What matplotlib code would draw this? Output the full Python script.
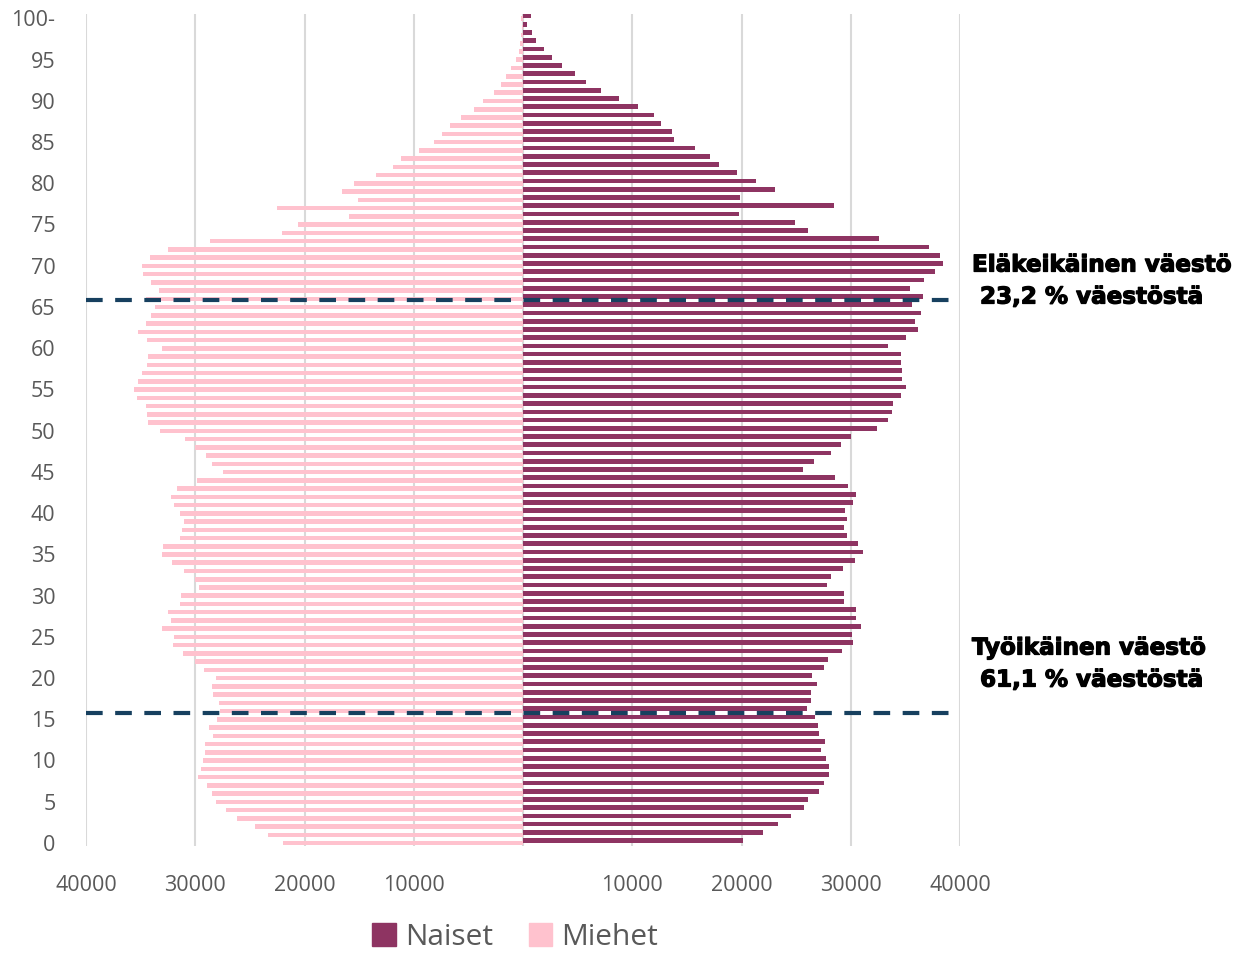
import numpy as np
import matplotlib
matplotlib.use("Agg")
import matplotlib.pyplot as plt
import matplotlib.patheffects as pe
from matplotlib.patches import Patch

# --- DATA (ages 0..100) ---
ages = np.arange(0, 101)

men = [21940, 23310, 24500, 26180, 27190, 28070, 28500, 28900, 29780, 29480,
       29260, 29080, 29080, 28410, 28750, 28010, 27700, 27800, 28410, 28440,
       28110, 29170, 30060, 31100, 32010, 31920, 33050, 32190, 32470, 31400,
       31310, 29630, 30060, 31000, 32100, 33020, 32930, 31370, 31190, 31030,
       31430, 31920, 32250, 31710, 29840, 27430, 28440, 28990, 30060, 30970,
       33200, 34330, 34390, 34540, 35310, 35580, 35210, 34880, 34450, 34300,
       33020, 34450, 35210, 34540, 34060, 33660, 34500, 33290, 34090, 34790,
       34880, 34150, 32500, 28680, 22030, 20570, 15930, 22490, 15140, 16570,
       15500, 13430, 11900, 11140, 9550, 8150, 7420, 6710, 5650, 4460,
       3690, 2690, 2040, 1530, 1070, 670, 340, 240, 150, 60,
       150]

women = [20140, 22000, 23340, 24500, 25720, 26090, 27130, 27560, 27980, 28040,
         27740, 27250, 27620, 27130, 27010, 26730, 26000, 26400, 26330, 26880,
         26460, 27560, 27920, 29200, 30240, 30120, 30940, 30520, 30490, 29420,
         29420, 27800, 28200, 29330, 30390, 31130, 30640, 29690, 29390, 29630,
         29510, 30180, 30490, 29720, 28590, 25660, 26670, 28200, 29080, 30060,
         32380, 33410, 33780, 33900, 34610, 35090, 34700, 34700, 34640, 34640,
         33410, 35090, 36130, 35860, 36400, 35640, 36650, 35400, 36710, 37750,
         38480, 38170, 37140, 32590, 26120, 24900, 19740, 28440, 19900, 23040,
         21330, 19590, 17910, 17150, 15780, 13850, 13670, 12660, 11990, 10500,
         8760, 7140, 5770, 4790, 3540, 2690, 1920, 1220, 850, 370,
         700]

y_ticks = list(range(0, 101, 5))
y_labels = [str(v) for v in range(0, 100, 5)] + ["100-"]
x_ticks = [-40000, -30000, -20000, -10000, 0, 10000, 20000, 30000, 40000]
x_labels = ["40000", "30000", "20000", "10000", "", "10000", "20000", "30000", "40000"]

# age group limits (dashed lines) and their labels
limits = [65.75, 15.6]
notes = [("Eläkeikäinen väestö", " 23,2 % väestöstä"),
         ("Työikäinen väestö", " 61,1 % väestöstä")]
note_y = [266, 649]  # pixel row of first line

C_WOMEN = "#8E3462"
C_MEN = "#FFC2CE"
C_LINE = "#17405F"
C_GRID = "#D9D9D9"
C_TEXT = "#595959"

W, H = 1238, 954
fig = plt.figure(figsize=(W / 100, H / 100), dpi=100)
ax = fig.add_axes([86 / W, 107 / H, 874 / W, 832 / H])

ax.barh(ages + 0.15, women, height=0.57, color=C_WOMEN, zorder=3)
ax.barh(ages - 0.15, [-v for v in men], height=0.55, color=C_MEN, zorder=3)

for y in limits:
    ax.plot([-40000, 39000], [y, y], color=C_LINE, lw=3, dashes=(4, 3), zorder=4)

ax.set_xlim(-40000, 40000)
ax.set_ylim(-0.5, 100.4)
ax.set_xticks(x_ticks)
ax.set_xticklabels(x_labels)
ax.set_yticks(y_ticks)
ax.set_yticklabels(y_labels)
ax.tick_params(axis="both", length=0, colors=C_TEXT, labelsize=15.5)
ax.tick_params(axis="x", pad=20)
ax.tick_params(axis="y", pad=22)
for lab in ax.get_xticklabels() + ax.get_yticklabels():
    lab.set_fontfamily("Open Sans")

ax.grid(axis="x", color=C_GRID, lw=1.5, zorder=0)
ax.set_axisbelow(True)
for s in ax.spines.values():
    s.set_visible(False)

# annotations on the right
thick = [pe.withStroke(linewidth=0.9, foreground="black")]
for (l1, l2), py in zip(notes, note_y):
    for k, line in enumerate((l1, l2)):
        fig.text(972 / W, 1 - (py + 32 * k) / H, line, fontsize=16.6,
                 fontweight="bold", family="DejaVu Sans", color="black",
                 va="center", ha="left", path_effects=thick)

handles = [Patch(color=C_WOMEN, label="Naiset"), Patch(color=C_MEN, label="Miehet")]
leg = fig.legend(handles=handles, loc="center", bbox_to_anchor=(515 / W, 1 - 938 / H),
                 ncol=2, frameon=False, handlelength=0.8, handleheight=0.8,
                 handletextpad=0.3, columnspacing=1.2,
                 prop={"family": "Open Sans", "size": 21.5})
for t in leg.get_texts():
    t.set_color(C_TEXT)

fig.savefig("out.png", dpi=100)
